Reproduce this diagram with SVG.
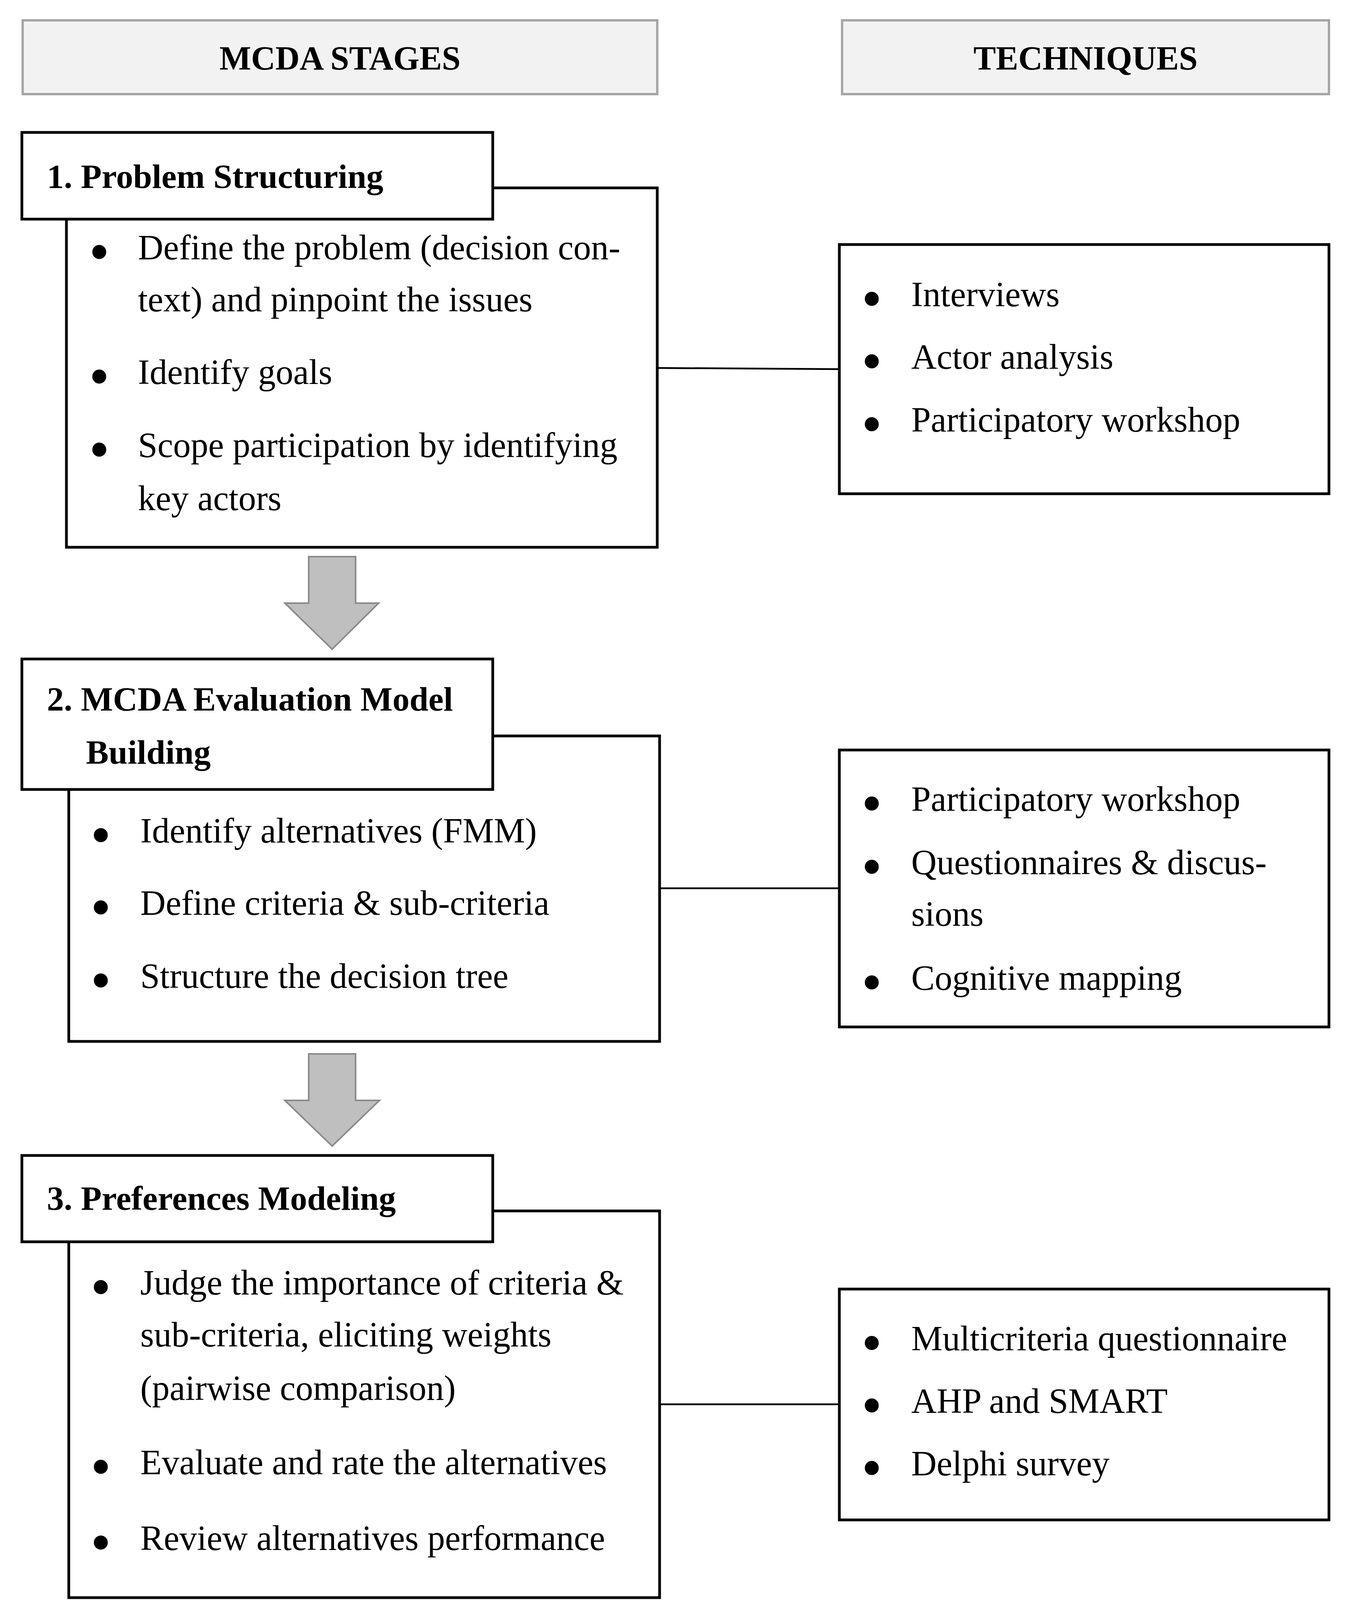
<svg xmlns="http://www.w3.org/2000/svg" width="3483" height="5390" viewBox="0 0 3483 5390">
<style>
  .hdr { fill: #f2f2f2; stroke: #a6a6a6; stroke-width: 6; }
  .box { fill: #ffffff; stroke: #000000; stroke-width: 7; }
  .conn { stroke: #000000; stroke-width: 4.5; fill: none; }
  .arrow { fill: #bfbfbf; stroke: #8a8a8a; stroke-width: 4; stroke-linejoin: miter; }
  .hdrtxt { font-family: "Liberation Serif", "Times New Roman", serif; font-weight: bold; font-size: 86px; fill: #000; text-anchor: middle; }
  .ttl { font-family: "Liberation Serif", "Times New Roman", serif; font-weight: bold; font-size: 87px; fill: #000; }
  .txt { font-family: "Liberation Serif", "Times New Roman", serif; font-size: 90px; fill: #000; }
  .bul { font-family: "Liberation Serif", "Times New Roman", serif; font-size: 150px; fill: #000; text-anchor: middle; }
</style>
<rect width="3483" height="5390" fill="#ffffff"/>

<g id="header-stages">
  <rect class="hdr" x="58" y="52" width="1624" height="189"/>
  <text class="hdrtxt" x="870" y="178">MCDA STAGES</text>
</g>
<g id="header-techniques">
  <rect class="hdr" x="2155" y="52" width="1246" height="189"/>
  <text class="hdrtxt" x="2778" y="178">TECHNIQUES</text>
</g>

<g id="connectors">
  <line class="conn" x1="1682" y1="942" x2="2148" y2="945"/>
  <line class="conn" x1="1688" y1="2274" x2="2148" y2="2274"/>
  <line class="conn" x1="1688" y1="3595" x2="2148" y2="3595"/>
  <line class="conn" x1="1682" y1="4952" x2="2148" y2="4958"/>
  <polygon class="arrow" points="790,1425 910,1425 910,1544 969,1544 850,1662 729,1544 790,1544"/>
  <polygon class="arrow" points="790,2698 910,2698 910,2817 971,2817 850,2934 729,2817 790,2817"/>
  <polygon class="arrow" points="744,4123 866,4241 805,4241 805,4359 685,4359 685,4241 625,4241"/>
  <polygon class="arrow" points="960,4129 1077,4129 1077,4247 1137,4247 1018,4365 898,4247 960,4247"/>
</g>

<g id="stage1">
  <rect class="box" x="170" y="481" width="1512" height="920"/>
  <rect class="box" x="56" y="339" width="1205" height="222"/>
  <text class="ttl" x="120" y="481">1. Problem Structuring</text>
  <text class="bul" x="254" y="695">•</text>
  <text class="txt" x="353" y="664">Define the problem (decision con-</text>
  <text class="txt" x="353" y="797">text) and pinpoint the issues</text>
  <text class="bul" x="254" y="1014">•</text>
  <text class="txt" x="353" y="983">Identify goals</text>
  <text class="bul" x="254" y="1201">•</text>
  <text class="txt" x="353" y="1170">Scope participation by identifying</text>
  <text class="txt" x="353" y="1306">key actors</text>
</g>

<g id="tech1">
  <rect class="box" x="2148" y="626" width="1253" height="638"/>
  <text class="bul" x="2231" y="815">•</text>
  <text class="txt" x="2332" y="784">Interviews</text>
  <text class="bul" x="2231" y="975">•</text>
  <text class="txt" x="2332" y="944">Actor analysis</text>
  <text class="bul" x="2231" y="1136">•</text>
  <text class="txt" x="2332" y="1105">Participatory workshop</text>
</g>

<g id="stage2">
  <rect class="box" x="176" y="1884" width="1512" height="782"/>
  <rect class="box" x="56" y="1687" width="1205" height="334"/>
  <text class="ttl" x="120" y="1819">2. MCDA Evaluation Model</text>
  <text class="ttl" x="220" y="1955">Building</text>
  <text class="bul" x="258" y="2188">•</text>
  <text class="txt" x="359" y="2157">Identify alternatives (FMM)</text>
  <text class="bul" x="258" y="2373">•</text>
  <text class="txt" x="359" y="2342">Define criteria &amp; sub-criteria</text>
  <text class="bul" x="258" y="2560">•</text>
  <text class="txt" x="359" y="2529">Structure the decision tree</text>
</g>

<g id="tech2">
  <rect class="box" x="2148" y="1920" width="1253" height="709"/>
  <text class="bul" x="2231" y="2107">•</text>
  <text class="txt" x="2332" y="2076">Participatory workshop</text>
  <text class="bul" x="2231" y="2269">•</text>
  <text class="txt" x="2332" y="2238">Questionnaires &amp; discus-</text>
  <text class="txt" x="2332" y="2370">sions</text>
  <text class="bul" x="2231" y="2565">•</text>
  <text class="txt" x="2332" y="2534">Cognitive mapping</text>
</g>

<g id="stage3">
  <rect class="box" x="176" y="3100" width="1512" height="990"/>
  <rect class="box" x="56" y="2958" width="1205" height="221"/>
  <text class="ttl" x="120" y="3097">3. Preferences Modeling</text>
  <text class="bul" x="258" y="3345">•</text>
  <text class="txt" x="359" y="3314">Judge the importance of criteria &amp;</text>
  <text class="txt" x="359" y="3447">sub-criteria, eliciting weights</text>
  <text class="txt" x="359" y="3584">(pairwise comparison)</text>
  <text class="bul" x="258" y="3805">•</text>
  <text class="txt" x="359" y="3774">Evaluate and rate the alternatives</text>
  <text class="bul" x="258" y="3999">•</text>
  <text class="txt" x="359" y="3968">Review alternatives performance</text>
</g>

<g id="tech3">
  <rect class="box" x="2148" y="3300" width="1253" height="591"/>
  <text class="bul" x="2231" y="3488">•</text>
  <text class="txt" x="2332" y="3457">Multicriteria questionnaire</text>
  <text class="bul" x="2231" y="3648">•</text>
  <text class="txt" x="2332" y="3617">AHP and SMART</text>
  <text class="bul" x="2231" y="3808">•</text>
  <text class="txt" x="2332" y="3777">Delphi survey</text>
</g>

<g id="stage4">
  <rect class="box" x="172" y="4553" width="1510" height="803"/>
  <rect class="box" x="50" y="4405" width="1207" height="221"/>
  <text class="ttl" x="116" y="4544">4. Overall Analysis</text>
  <text class="bul" x="253" y="4795">•</text>
  <text class="txt" x="354" y="4764">Assess overall elicitations</text>
  <text class="bul" x="253" y="4983">•</text>
  <text class="txt" x="354" y="4952">Conduct sensitivity analysis</text>
  <text class="bul" x="253" y="5171">•</text>
  <text class="txt" x="354" y="5140">Evaluate and compare individual</text>
  <text class="txt" x="354" y="5272">and interest groups results</text>
</g>

<g id="tech4">
  <rect class="box" x="2148" y="4813" width="1254" height="287"/>
  <text class="bul" x="2231" y="5008">•</text>
  <text class="txt" x="2332" y="4977">Consensus algorithm</text>
</g>
</svg>
